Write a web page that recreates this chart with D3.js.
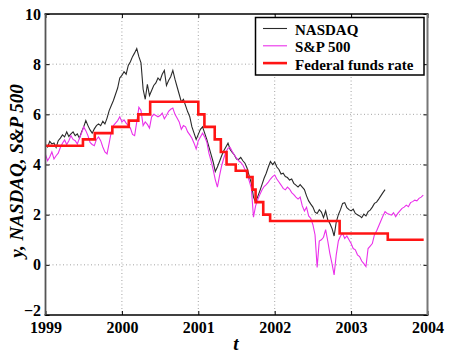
<!DOCTYPE html>
<html>
<head>
<meta charset="utf-8">
<script src="https://cdnjs.cloudflare.com/ajax/libs/d3/7.8.5/d3.min.js"></script>
<style>
    body { margin: 0; background: #fff; }
    text { font-family: "Liberation Serif", "Times New Roman", serif; font-weight: bold; }
</style>
</head>
<body>
<div id="chart"></div>
<script>
const width = 457,
    height = 361;

// series are sampled every 1/36 of a year starting at 1999.0
const seriesStart = 1999,
    stepsPerYear = 36;

const nasdaq = [
    4.78, 4.70, 4.92, 4.82, 4.86, 4.68, 4.95, 5.05, 5.18, 5.10,
    5.30, 5.12, 5.22, 5.30, 5.15, 5.22, 5.05, 5.30, 5.50, 5.75,
    5.55, 5.38, 5.25, 5.42, 5.55, 5.62, 5.55, 5.72, 5.62, 5.85,
    6.15, 6.35, 6.55, 6.80, 7.05, 7.45, 7.55, 7.70, 7.60, 7.95,
    8.10, 8.30, 8.45, 8.62, 8.30, 8.05, 7.00, 6.60, 7.20, 6.75,
    6.95, 7.15, 7.25, 7.45, 7.35, 7.60, 7.75, 7.15, 7.35, 7.50,
    7.75, 7.40, 7.10, 6.80, 6.50, 6.60, 6.35, 6.10, 5.90, 5.50,
    5.25, 5.00, 5.20, 5.40, 5.50, 5.25, 5.00, 4.70, 4.40, 4.10,
    3.72, 3.90, 4.12, 4.35, 4.55, 4.70, 4.85, 4.60, 4.48, 4.38,
    4.22, 4.20, 4.28, 4.15, 4.05, 3.85, 3.55, 3.25, 2.70, 2.50,
    2.72, 2.95, 3.20, 3.45, 3.65, 3.90, 4.12, 4.00, 4.10, 3.90,
    3.80, 3.62, 3.65, 3.52, 3.48, 3.38, 3.42, 3.25, 3.18, 3.10,
    3.20, 3.10, 3.00, 2.75, 2.55, 2.42, 2.30, 2.10, 2.05, 2.20,
    2.10, 1.88, 2.15, 1.80, 1.65, 1.45, 1.15, 1.70, 2.00, 2.20,
    2.45, 2.48, 2.28, 2.20, 2.15, 2.22, 2.05, 2.00, 1.95, 1.88,
    2.02, 1.95, 2.12, 2.18, 2.30, 2.45, 2.50, 2.62, 2.75, 2.88,
    3.00
];

const sp500 = [
    4.40, 4.15, 4.30, 4.50, 4.22, 4.35, 4.45, 4.68, 4.85, 4.98,
    4.80, 4.95, 5.15, 5.00, 4.95, 4.82, 5.05, 5.25, 5.50, 5.35,
    5.15, 4.88, 4.80, 4.75, 5.00, 5.10, 4.95, 4.70, 4.50, 4.42,
    4.85, 5.30, 5.55, 5.65, 5.75, 5.90, 5.70, 5.78, 5.65, 5.55,
    5.45, 5.20, 5.15, 5.70, 6.28, 6.15, 5.55, 5.70, 5.60, 5.45,
    5.90, 6.00, 5.95, 5.90, 5.95, 6.05, 5.82, 5.95, 6.12, 6.20,
    6.25, 6.00, 5.85, 5.70, 5.40, 5.55, 5.50, 5.30, 5.18, 5.05,
    4.85, 4.62, 4.95, 5.10, 5.25, 5.10, 4.90, 4.45, 4.15, 3.80,
    3.40, 3.10, 3.55, 3.95, 4.25, 4.50, 4.65, 4.68, 4.52, 4.38,
    4.25, 4.15, 4.08, 3.98, 3.80, 3.60, 3.35, 3.05, 1.90, 2.35,
    2.60, 2.80, 2.98, 3.12, 3.20, 3.30, 3.42, 3.52, 3.58, 3.42,
    3.30, 3.18, 3.05, 2.99, 3.10, 3.02, 2.88, 2.80, 2.70, 2.62,
    2.70, 2.35, 2.15, 2.30, 1.95, 1.85, 1.60, 1.20, -0.10, 0.95,
    1.00, 1.10, 1.40, 0.95, 0.45, 0.05, -0.40, 0.40, 0.95, 1.15,
    1.25, 1.05, 1.15, 1.00, 0.85, 0.65, 0.60, 0.40, 0.33, 0.15,
    0.05, -0.07, 0.65, 0.75, 0.85, 1.20, 1.35, 1.55, 1.75, 1.95,
    2.12, 2.05, 2.02, 1.98, 2.08, 1.92, 2.05, 2.15, 2.25, 2.30,
    2.38, 2.32, 2.48, 2.52, 2.58, 2.55, 2.65, 2.70, 2.78
];

// federal funds target rate: change dates (decimal years) and new level
const fedDates = [1999.0, 1999.49, 1999.645, 1999.875, 2000.09, 2000.215, 2000.37,
    2001.0, 2001.08, 2001.215, 2001.295, 2001.37, 2001.49, 2001.64, 2001.71,
    2001.75, 2001.85, 2001.94, 2002.85, 2003.48, 2003.95];
const fedRates = [4.75, 5.00, 5.25, 5.50, 5.75, 6.00, 6.50,
    6.00, 5.50, 5.00, 4.50, 4.00, 3.75, 3.50, 3.00,
    2.50, 2.00, 1.75, 1.25, 1.00, 1.00];

const xTicks = [1999, 2000, 2001, 2002, 2003, 2004];
const yTicks = [-2, 0, 2, 4, 6, 8, 10];
const legendLabels = ['NASDAQ', 'S&P 500', 'Federal funds rate'];
const colors = ['#2a2a2a', '#ea30ea', '#ff1414'];

const plotLeft = 45.5, plotRight = 427.5, plotTop = 14, plotBottom = 315;

const svg = d3.select('#chart')
    .append('svg')
    .attr('width', width)
    .attr('height', height);

svg.append('rect').attr('width', width).attr('height', height).attr('fill', '#fff');

const xScale = d3.scaleLinear().domain([1999, 2004]).range([plotLeft, plotRight]);
const yScale = d3.scaleLinear().domain([-2, 10]).range([plotBottom, plotTop]);

// dotted grid
const grid = svg.append('g').attr('class', 'grid')
    .attr('stroke', '#8c8c8c')
    .attr('stroke-width', 0.8)
    .attr('stroke-dasharray', '1,2.5');
grid.selectAll('.gx')
    .data(xTicks.slice(1, -1))
    .enter()
    .append('line')
    .attr('x1', d => xScale(d)).attr('x2', d => xScale(d))
    .attr('y1', plotTop).attr('y2', plotBottom);
grid.selectAll('.gy')
    .data(yTicks.slice(1, -1))
    .enter()
    .append('line')
    .attr('x1', plotLeft).attr('x2', plotRight)
    .attr('y1', d => yScale(d)).attr('y2', d => yScale(d));

// lines
const toPoints = (vals) => vals.map((v, i) => [seriesStart + i / stepsPerYear, v]);
const line = d3.line()
    .x(d => xScale(d[0]))
    .y(d => yScale(d[1]));

svg.append('path')
    .attr('d', line(toPoints(nasdaq)))
    .attr('fill', 'none')
    .attr('stroke', colors[0])
    .attr('stroke-width', 1.1);

svg.append('path')
    .attr('d', line(toPoints(sp500)))
    .attr('fill', 'none')
    .attr('stroke', colors[1])
    .attr('stroke-width', 1.1);

const stepLine = d3.line()
    .x(d => xScale(d[0]))
    .y(d => yScale(d[1]))
    .curve(d3.curveStepAfter);

svg.append('path')
    .attr('d', stepLine(fedDates.map((d, i) => [d, fedRates[i]])))
    .attr('fill', 'none')
    .attr('stroke', colors[2])
    .attr('stroke-width', 2.6);

// axes, MATLAB style ticks pointing inside
const xAxis = d3.axisBottom(xScale).tickValues(xTicks).tickFormat(d3.format('d')).tickSize(-4).tickPadding(7);
const yAxis = d3.axisLeft(yScale).tickValues(yTicks).tickSize(-4).tickPadding(4.5);

svg.append('g')
    .attr('transform', 'translate(0,' + plotBottom + ')')
    .call(xAxis);
const yAxisG = svg.append('g')
    .attr('transform', 'translate(' + plotLeft + ',0)')
    .call(yAxis);
svg.append('g')
    .attr('transform', 'translate(0,' + plotTop + ')')
    .call(d3.axisTop(xScale).tickValues(xTicks).tickFormat('').tickSize(-4));
svg.append('g')
    .attr('transform', 'translate(' + plotRight + ',0)')
    .call(d3.axisRight(yScale).tickValues(yTicks).tickFormat('').tickSize(-4));

svg.selectAll('.domain').remove();
svg.selectAll('.tick line').attr('stroke', '#000').attr('stroke-width', 1);
svg.selectAll('.tick text')
    .attr('fill', '#000')
    .style('font-size', '16px')
    .style('font-family', '"Liberation Serif", serif')
    .style('font-weight', 'bold');
// the lowest y label sits a little higher, clear of the 1999 label
yAxisG.selectAll('.tick text')
    .filter(d => d == -2)
    .attr('dy', '0.05em');

// box
svg.append('line').attr('x1', plotLeft - 1).attr('x2', plotRight + 1).attr('y1', plotTop).attr('y2', plotTop)
    .attr('stroke', '#000').attr('stroke-width', 1.6);
svg.append('line').attr('x1', plotLeft - 1).attr('x2', plotRight + 1).attr('y1', plotBottom).attr('y2', plotBottom)
    .attr('stroke', '#000').attr('stroke-width', 1.6);
svg.append('line').attr('x1', plotLeft).attr('x2', plotLeft).attr('y1', plotTop).attr('y2', plotBottom)
    .attr('stroke', '#555').attr('stroke-width', 1.8);
svg.append('line').attr('x1', plotRight).attr('x2', plotRight).attr('y1', plotTop).attr('y2', plotBottom)
    .attr('stroke', '#777').attr('stroke-width', 2);

// axis labels
svg.append('text')
    .attr('transform', 'translate(23,171) rotate(-90)')
    .attr('text-anchor', 'middle')
    .style('font-size', '19px')
    .style('font-style', 'italic')
    .text('y, NASDAQ, S&P 500');

svg.append('text')
    .attr('x', 236)
    .attr('y', 350)
    .attr('text-anchor', 'middle')
    .style('font-size', '19px')
    .style('font-style', 'italic')
    .text('t');

// legend
const legend = svg.append('g').attr('class', 'legend');
legend.append('rect')
    .attr('x', 255.5).attr('y', 17.5)
    .attr('width', 168.5).attr('height', 57.5)
    .attr('fill', '#fff')
    .attr('stroke', '#000')
    .attr('stroke-width', 1.5);

const rows = legend.selectAll('.row')
    .data(legendLabels)
    .enter()
    .append('g')
    .attr('transform', (d, i) => 'translate(0,' + (28.5 + i * 17.3) + ')');
rows.append('line')
    .attr('x1', 263).attr('x2', 287)
    .attr('stroke', (d, i) => colors[i])
    .attr('stroke-width', (d, i) => i == 2 ? 2.6 : 1.1);
rows.append('text')
    .attr('x', 295)
    .attr('y', 6.5)
    .style('font-size', '15px')
    .text(d => d);
</script>
</body>
</html>
